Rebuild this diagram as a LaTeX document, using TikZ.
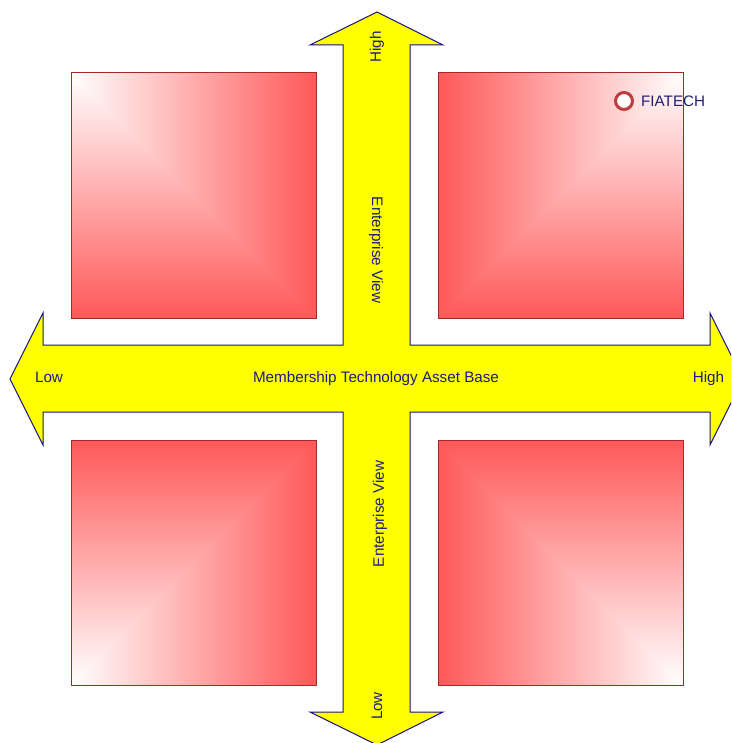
\documentclass[tikz,border=0pt]{standalone}
\usepackage{fontspec}
\setmainfont{Liberation Sans}
\definecolor{sqred}{RGB}{255,88,88}
\definecolor{sqedge}{RGB}{165,40,40}
\definecolor{arrnavy}{RGB}{20,20,130}
\definecolor{txtnavy}{RGB}{30,30,120}
\definecolor{ringred}{RGB}{190,60,60}
\definecolor{arryellow}{RGB}{255,255,0}
\tikzset{
  lbl/.style={font=\fontsize{15.2}{18}\selectfont, text=txtnavy, inner sep=0pt},
  sqborder/.style={draw=sqedge, line width=1pt},
  crossarrow/.style={fill=arryellow, draw=arrnavy, line width=1pt, line join=miter}
}
\begin{document}
\begin{tikzpicture}[x=1pt,y=-1pt]
\useasboundingbox (0,0) rectangle (731,743);
\clip (0,0) rectangle (731,743);
% top-left square (white corner at top-left)
\shade[left color=white, right color=sqred] (71,73) rectangle (316,318);
\shade[top color=white, bottom color=sqred] (71,73) -- (71,318) -- (316,318) -- cycle;
\draw[sqborder] (71,73) rectangle (316,318);
% top-right square (white corner at top-right)
\shade[left color=sqred, right color=white] (438,73) rectangle (683,318);
\shade[top color=white, bottom color=sqred] (683,73) -- (683,318) -- (438,318) -- cycle;
\draw[sqborder] (438,73) rectangle (683,318);
% bottom-left square (white corner at bottom-left)
\shade[left color=white, right color=sqred] (71,440) rectangle (316,685);
\shade[top color=sqred, bottom color=white] (71,685) -- (71,440) -- (316,440) -- cycle;
\draw[sqborder] (71,440) rectangle (316,685);
% bottom-right square (white corner at bottom-right)
\shade[left color=sqred, right color=white] (438,440) rectangle (683,685);
\shade[top color=sqred, bottom color=white] (683,685) -- (683,440) -- (438,440) -- cycle;
\draw[sqborder] (438,440) rectangle (683,685);
% cross of four arrows
\draw[crossarrow] (377,12) -- (443,45) -- (410,45) -- (410,345) -- (710,345) -- (710,313)
  -- (743,379) -- (710,445) -- (710,412) -- (410,412) -- (410,712) -- (443,712)
  -- (377,745) -- (310,712) -- (343,712) -- (343,412) -- (43,412) -- (43,445)
  -- (10,379) -- (43,313) -- (43,345) -- (343,345) -- (343,45) -- (310,45) -- cycle;
% labels
\node[lbl, rotate=90] (vhigh) at (377,47) {High};
\node[lbl, rotate=-90] (ventop) at (376,250) {Enterprise View};
\node[lbl, rotate=90] (venbot) at (380,514) {Enterprise View};
\node[lbl, rotate=90] (vlow) at (377,706) {Low};
\node[lbl] (hlow) at (49,377) {Low};
\node[lbl] (hmid) at (376,379) {Membership Technology Asset Base};
\node[lbl] (hhigh) at (708.5,379) {High};
% FIATECH marker
\node[circle, draw=ringred, fill=white, line width=3pt, minimum size=17pt, inner sep=0pt] (fmark) at (624,101) {};
\node[lbl, anchor=west] (ftext) at (641,101) {FIATECH};
\end{tikzpicture}
\end{document}
